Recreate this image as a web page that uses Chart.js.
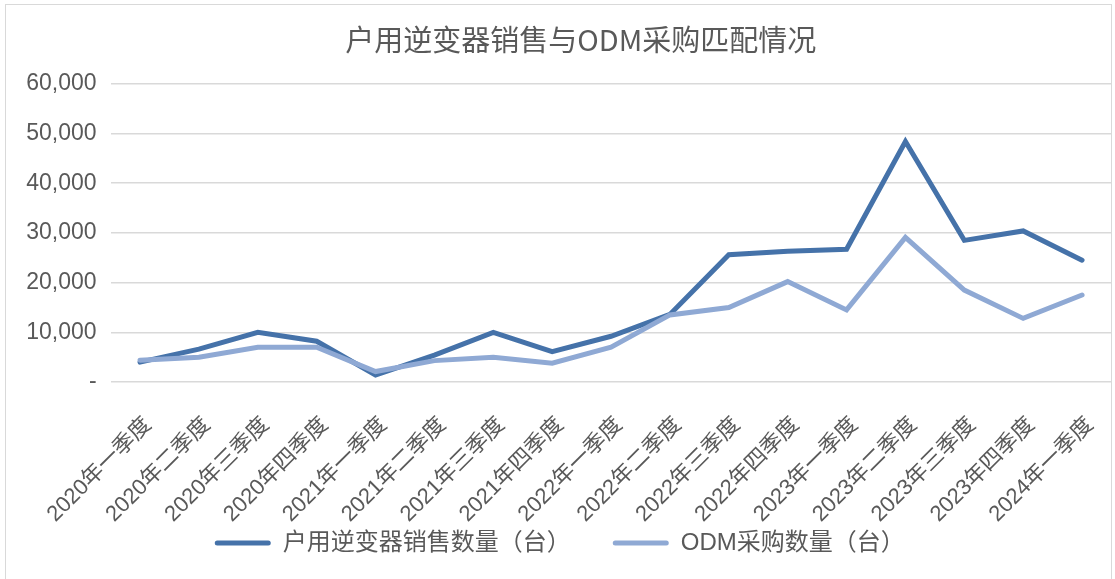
<!DOCTYPE html>
<html>
<head>
<meta charset="utf-8">
<script src="https://cdn.jsdelivr.net/npm/chart.js@4.4.1/dist/chart.umd.min.js"></script>
<style>
  html, body { margin: 0; padding: 0; background: #ffffff; }
  #wrap { position: relative; width: 1115px; height: 579px; }
  #frame { position: absolute; left: 5px; top: 4px; width: 1107px; height: 600px;
           border: 1.5px solid #d9d9d9; pointer-events: none; box-sizing: border-box; }
</style>
</head>
<body>
<div id="wrap">
  <canvas id="c"></canvas>
  <div id="frame"></div>
</div>
<script>
const titleText = '户用逆变器销售与ODM采购匹配情况';
const categories = ['2020年一季度','2020年二季度','2020年三季度','2020年四季度',
  '2021年一季度','2021年二季度','2021年三季度','2021年四季度',
  '2022年一季度','2022年二季度','2022年三季度','2022年四季度',
  '2023年一季度','2023年二季度','2023年三季度','2023年四季度','2024年一季度'];
const seriesNames = ['户用逆变器销售数量（台）', 'ODM采购数量（台）'];
const salesQty = [4000, 6600, 10000, 8200, 1400, 5400, 10000, 6100, 9200, 13600,
  25600, 26300, 26700, 48400, 28500, 30400, 24500];
const odmQty = [4400, 5000, 7000, 7000, 2100, 4300, 5000, 3800, 7000, 13500,
  15000, 20200, 14500, 29100, 18500, 12800, 17500];
const yTicks = [0, 10000, 20000, 30000, 40000, 50000, 60000];

const darkBlue = '#4572a9';
const lightBlue = '#8fa9d4';
const textGray = '#595959';
const latin = '"Liberation Sans", "Noto Sans CJK SC", sans-serif';

const boxShift = {
  id: 'boxShift',
  afterLayout(chart) {
    if (chart.titleBlock) { chart.titleBlock.left = 50; }
    if (chart.legend) { chart.legend.left = 8; }
  }
};

const ctx = document.getElementById('c');
new Chart(ctx, {
  type: 'line',
  data: {
    labels: categories,
    datasets: [
      { label: seriesNames[0], data: salesQty, borderColor: darkBlue, backgroundColor: darkBlue,
        borderWidth: 5, pointRadius: 0, tension: 0, order: 2, borderCapStyle: 'round' },
      { label: seriesNames[1], data: odmQty, borderColor: lightBlue, backgroundColor: lightBlue,
        borderWidth: 5, pointRadius: 0, tension: 0, order: 1, borderCapStyle: 'round' }
    ]
  },
  plugins: [boxShift],
  options: {
    responsive: true,
    maintainAspectRatio: false,
    animation: false,
    layout: { padding: { left: 0, right: 3.5, top: 0, bottom: 14 } },
    plugins: {
      tooltip: { enabled: false },
      title: {
        display: true, text: titleText, color: textGray,
        font: { family: '"Noto Sans CJK SC", sans-serif', size: 29, weight: 'normal' },
        padding: { top: 23, bottom: 26 }
      },
      legend: {
        display: true, position: 'bottom', align: 'center',
        labels: {
          color: textGray,
          font: { family: latin, size: 24 },
          boxWidth: 56, boxHeight: 5, padding: 2,
          useBorderRadius: true, borderRadius: 2.5,
          generateLabels: (chart) => chart.data.datasets.map((ds, i) => ({
            text: i === 0 ? ds.label + '      ' : ds.label,
            fillStyle: ds.borderColor, strokeStyle: ds.borderColor, lineWidth: 0,
            hidden: false, datasetIndex: i, fontColor: textGray, borderRadius: 2.5
          }))
        }
      }
    },
    scales: {
      x: {
        offset: true,
        grid: { display: false, drawTicks: false },
        border: { display: false },
        ticks: {
          color: textGray, font: { family: latin, size: 22 },
          minRotation: 45, maxRotation: 45, padding: 30, labelOffset: 8, autoSkip: false
        },
        afterFit: (s) => { s.height = 147; s.paddingLeft = 0; s.paddingRight = 0; }
      },
      y: {
        min: 0, max: 60000,
        afterBuildTicks: (s) => { s.ticks = yTicks.map(v => ({ value: v })); },
        grid: { color: '#d9d9d9', lineWidth: 1.5, drawTicks: false },
        border: { display: false },
        ticks: {
          color: textGray, font: { family: latin, size: 23 }, padding: 14,
          callback: (v) => v === 0 ? '-' : Number(v).toLocaleString('en-US')
        },
        afterFit: (s) => { s.width = 110.6; }
      }
    }
  }
});
</script>
</body>
</html>
